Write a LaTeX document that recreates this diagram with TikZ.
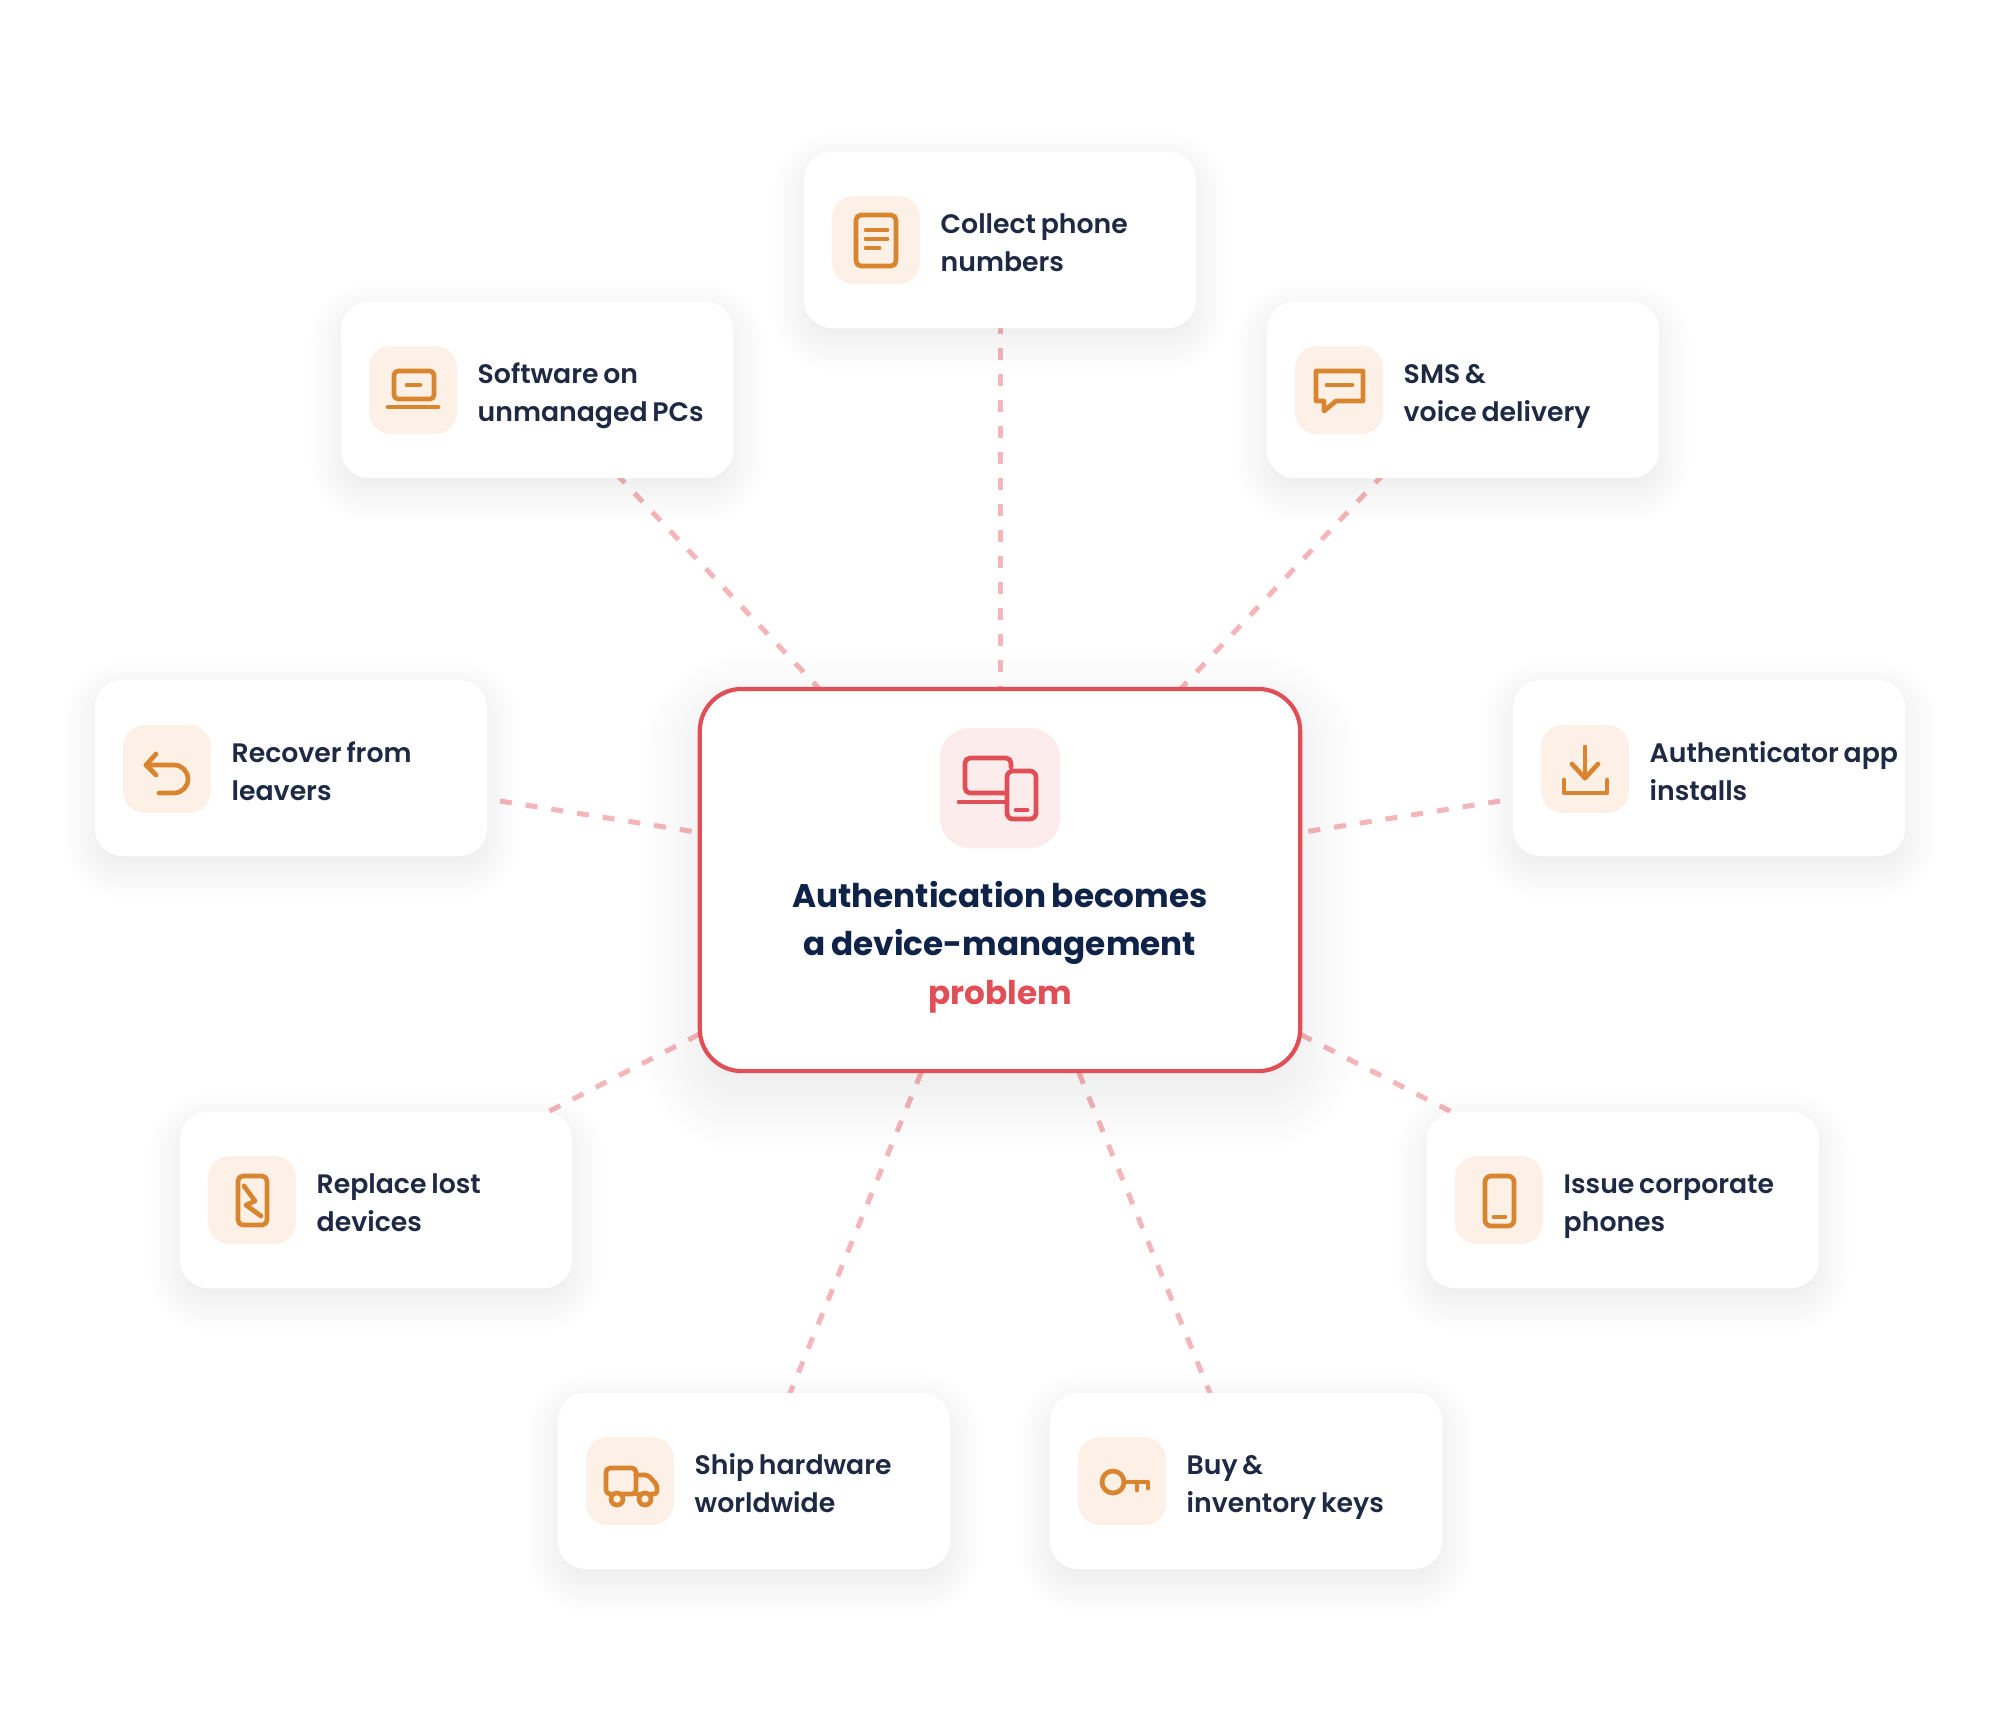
\documentclass[tikz,border=0pt]{standalone}
\usepackage{fontspec}
\setmainfont{Poppins}[BoldFont=Poppins SemiBold, WordSpace=0.75]
\newfontfamily\hubfont{Poppins Bold}[WordSpace=0.75]
\usepackage{tikz}
\usetikzlibrary{
  backgrounds            % Connectors and shadows behind the cards
}
\definecolor{orangeicon}{HTML}{D9842E}
\definecolor{orangetile}{HTML}{FDF0E6}
\definecolor{redline}{HTML}{E04F55}
\definecolor{redtile}{HTML}{FDECEC}
\definecolor{linkpink}{HTML}{F4B6BA}
\definecolor{labelink}{HTML}{1E2A44}
\definecolor{hubink}{HTML}{0F2248}
\definecolor{shadowink}{HTML}{1E2A6A}
\tikzset{
  itemcard/.style={fill=white, rounded corners=0.28cm, minimum width=3.92cm, minimum height=1.76cm, inner sep=0pt},
  hubcard/.style={draw=redline, line width=0.042cm, fill=white, rounded corners=0.42cm, minimum width=6cm, minimum height=3.82cm, inner sep=0pt},
  icontile/.style={fill=orangetile, rounded corners=0.22cm, minimum size=0.88cm, inner sep=0pt},
  hubtile/.style={fill=redtile, rounded corners=0.3cm, minimum size=1.2cm, inner sep=0pt},
  itemlabel/.style={anchor=base west, align=left, inner sep=0pt, text=labelink, font=\fontsize{7.6pt}{10.8pt}\selectfont\bfseries},
  hublabel/.style={anchor=base, align=center, inner sep=0pt, text=hubink, font=\fontsize{9.3pt}{13.66pt}\selectfont\hubfont},
  iconline/.style={draw=orangeicon, line width=0.047cm, line cap=round, line join=round},
  hubline/.style={draw=redline, line width=0.047cm, line cap=round, line join=round},
  linkline/.style={draw=linkpink, line width=0.05cm, dash pattern=on 0.12cm off 0.14cm}
}
% Soft shadow: node name, corner radius, drop, spread (all in picture units)
\newcommand{\softshadow}[4]{%
  \foreach \grow in {-5,...,11} {
    \pgfmathsetmacro{\spread}{\grow*#4/11}
    \pgfmathsetmacro{\corner}{max(#2+\spread,4)*0.01}
    \fill[shadowink, opacity=0.0048, rounded corners=\corner cm]
      ([shift={(-\spread,#3-\spread)}]#1.north west) rectangle ([shift={(\spread,#3+\spread)}]#1.south east);
  }
}

\begin{document}
\begin{tikzpicture}[x=0.01cm, y=-0.01cm]

    \useasboundingbox (0,0) rectangle (2000,1720);

    % Centre card
    \node[hubcard] (hub) at (1000,880) {};
    \node[hubtile] (hubicon) at (1000,788) {};
    \node[hublabel] (hubtext) at (1000,1004) {Authentication becomes\\a device-management\\\textcolor{redline}{problem}};

    % Laptop and phone on the centre card
    \begin{scope}[shift={(hubicon.center)}]
        \draw[hubline, rounded corners=0.05cm] (6,5) -- (-35,5) -- (-35,-30) -- (11,-30) -- (11,-21);
        \draw[hubline] (-41,14) -- (6,14);
        \draw[hubline, rounded corners=0.06cm] (7,-17) rectangle (36,31);
        \draw[hubline] (16,22) -- (27,22);
    \end{scope}

    % Top card
    \node[itemcard] (collect) at (1000,240) {};
    \node[icontile] (collecttile) at (876,240) {};
    \node[itemlabel] (collecttext) at (940,271) {Collect phone\\numbers};
    \begin{scope}[shift={(collecttile.center)}]
        \draw[iconline, rounded corners=0.05cm] (-20,-25) rectangle (20,26);
        \draw[iconline] (-10,-10) -- (11,-10);
        \draw[iconline] (-10,-1) -- (11,-1);
        \draw[iconline] (-10,8) -- (3,8);
    \end{scope}

    % Upper left card
    \node[itemcard] (software) at (537,390) {};
    \node[icontile] (softwaretile) at (413,390) {};
    \node[itemlabel] (softwaretext) at (477,421) {Software on\\unmanaged PCs};
    \begin{scope}[shift={(softwaretile.center)}]
        \draw[iconline, rounded corners=0.04cm] (-19,-19) rectangle (21,9);
        \draw[iconline] (-6,-5) -- (7,-5);
        \draw[iconline] (-25,17) -- (25,17);
    \end{scope}

    % Upper right card
    \node[itemcard] (sms) at (1463,390) {};
    \node[icontile] (smstile) at (1339,390) {};
    \node[itemlabel] (smstext) at (1403,421) {SMS \&\\voice delivery};
    \begin{scope}[shift={(smstile.center)}]
        \draw[iconline] (-23,-19) -- (24,-19) -- (24,11) -- (-3,11) -- (-15,21) -- (-15,11) -- (-23,11) -- cycle;
        \draw[iconline] (-12,-5) -- (13,-5);
    \end{scope}

    % Left card
    \node[itemcard] (recover) at (291,768) {};
    \node[icontile] (recovertile) at (167,769) {};
    \node[itemlabel] (recovertext) at (231,800) {Recover from\\leavers};
    \begin{scope}[shift={(recovertile.center)}]
        \draw[iconline] (-8,24) -- (7,24) arc (90:-90:14) -- (-21,-4);
        \draw[iconline] (-11,-15) -- (-21,-4) -- (-11,6);
    \end{scope}

    % Right card
    \node[itemcard] (authapp) at (1709,768) {};
    \node[icontile] (authapptile) at (1585,769) {};
    \node[itemlabel] (authapptext) at (1649,800) {Authenticator app\\installs};
    \begin{scope}[shift={(authapptile.center)}]
        \draw[iconline] (0,-22) -- (0,9);
        \draw[iconline] (-13,-5) -- (0,9) -- (13,-5);
        \draw[iconline] (-21,11) -- (-21,24) -- (22,24) -- (22,11);
    \end{scope}

    % Lower left card
    \node[itemcard] (replace) at (376,1200) {};
    \node[icontile] (replacetile) at (252,1200) {};
    \node[itemlabel] (replacetext) at (316,1231) {Replace lost\\devices};
    \begin{scope}[shift={(replacetile.center)}]
        \draw[iconline, rounded corners=0.05cm] (-14,-24) rectangle (15,25);
        \draw[iconline] (-8,-14) -- (3,1) -- (-6,5) -- (9,16);
    \end{scope}

    % Lower right card
    \node[itemcard] (issue) at (1623,1200) {};
    \node[icontile] (issuetile) at (1499,1200) {};
    \node[itemlabel] (issuetext) at (1563,1231) {Issue corporate\\phones};
    \begin{scope}[shift={(issuetile.center)}]
        \draw[iconline, rounded corners=0.06cm] (-14,-24) rectangle (15,26);
        \draw[iconline] (-5,17) -- (6,17);
    \end{scope}

    % Bottom left card
    \node[itemcard] (ship) at (754,1481) {};
    \node[icontile] (shiptile) at (630,1481) {};
    \node[itemlabel] (shiptext) at (694,1512) {Ship hardware\\worldwide};
    \begin{scope}[shift={(shiptile.center)}]
        \draw[iconline, rounded corners=0.04cm] (-19,13) -- (-24,13) -- (-24,-13) -- (6,-13) -- (6,13) -- (-7,13);
        \draw[iconline] (6,13) -- (9,13);
        \draw[iconline, rounded corners=0.03cm] (6,-6) -- (18,-6) -- (27,4) -- (27,13) -- (21,13);
        \draw[iconline] (-13,18) circle (6);
        \draw[iconline] (15,18) circle (6);
    \end{scope}

    % Bottom right card
    \node[itemcard] (buy) at (1246,1481) {};
    \node[icontile] (buytile) at (1122,1481) {};
    \node[itemlabel] (buytext) at (1186,1512) {Buy \&\\inventory keys};
    \begin{scope}[shift={(buytile.center)}]
        \draw[iconline] (-9,1) circle (11);
        \draw[iconline] (2,1) -- (26,1) -- (26,7);
        \draw[iconline] (15,1) -- (15,9);
    \end{scope}

    % Dashed connectors, shadows and page
    \begin{scope}[on background layer]
        \fill[white] (0,0) rectangle (2000,1720);
        \draw[linkline] (hub.center) -- (collect.center);
        \draw[linkline] (hub.center) -- (software.center);
        \draw[linkline] (hub.center) -- (sms.center);
        \draw[linkline] (hub.center) -- (recover.center);
        \draw[linkline] (hub.center) -- (authapp.center);
        \draw[linkline] (hub.center) -- (replace.center);
        \draw[linkline] (hub.center) -- (issue.center);
        \draw[linkline] (hub.center) -- (ship.center);
        \draw[linkline] (hub.center) -- (buy.center);
        \softshadow{collect}{28}{12}{30}
        \softshadow{software}{28}{12}{30}
        \softshadow{sms}{28}{12}{30}
        \softshadow{recover}{28}{12}{30}
        \softshadow{authapp}{28}{12}{30}
        \softshadow{replace}{28}{12}{30}
        \softshadow{issue}{28}{12}{30}
        \softshadow{ship}{28}{12}{30}
        \softshadow{buy}{28}{12}{30}
        \softshadow{hub}{42}{22}{55}
    \end{scope}

\end{tikzpicture}
\end{document}
